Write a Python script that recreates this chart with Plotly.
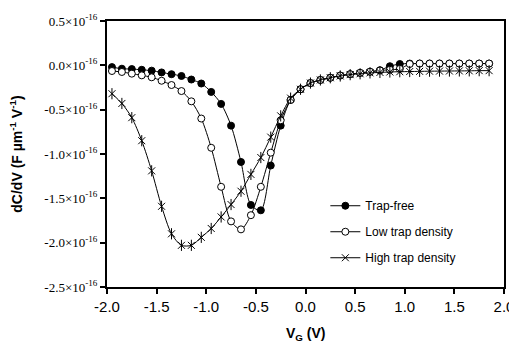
import plotly.graph_objects as go

vg = [-1.95, -1.85, -1.75, -1.65, -1.55, -1.45, -1.35, -1.25, -1.15, -1.05,
      -0.95, -0.85, -0.75, -0.65, -0.55, -0.45, -0.35, -0.25, -0.15, -0.05,
      0.05, 0.15, 0.25, 0.35, 0.45, 0.55, 0.65, 0.75, 0.85, 0.95,
      1.05, 1.15, 1.25, 1.35, 1.45, 1.55, 1.65, 1.75, 1.85]

# values in units of 1e-16 F um^-1 V^-1
trap_free = [-0.02, -0.038, -0.042, -0.05, -0.06, -0.08, -0.10, -0.12, -0.16, -0.205,
             -0.30, -0.435, -0.68, -1.09, -1.575, -1.635, -1.13, -0.68, -0.39, -0.27,
             -0.20, -0.165, -0.14, -0.115, -0.10, -0.085, -0.072, -0.055, -0.01, 0.015,
             0.02, 0.02, 0.02, 0.02, 0.02, 0.02, 0.02, 0.02, 0.02]

low_trap = [-0.064, -0.075, -0.094, -0.113, -0.135, -0.174, -0.222, -0.29, -0.406, -0.60,
            -0.93, -1.37, -1.76, -1.85, -1.69, -1.37, -0.985, -0.62, -0.39, -0.27,
            -0.20, -0.165, -0.14, -0.115, -0.10, -0.085, -0.072, -0.058, -0.05, -0.04,
            0.015, 0.02, 0.02, 0.02, 0.02, 0.02, 0.02, 0.02, 0.02]

high_trap = [-0.32, -0.43, -0.59, -0.85, -1.19, -1.59, -1.90, -2.03, -2.03, -1.94,
             -1.84, -1.71, -1.57, -1.42, -1.23, -1.04, -0.81, -0.57, -0.37, -0.27,
             -0.20, -0.165, -0.14, -0.12, -0.105, -0.095, -0.085, -0.08, -0.075, -0.072,
             -0.07, -0.068, -0.066, -0.065, -0.064, -0.063, -0.062, -0.06, -0.06]

y_ticks = [0.5, 0.0, -0.5, -1.0, -1.5, -2.0, -2.5]
y_ticktext = ["%.1f×10<sup>-16</sup>" % v for v in y_ticks]
x_ticks = [-2.0, -1.5, -1.0, -0.5, 0.0, 0.5, 1.0, 1.5, 2.0]
x_ticktext = ["%.1f" % v for v in x_ticks]

fig = go.Figure()
line = dict(color="black", width=1, shape="spline", smoothing=0.8)

fig.add_trace(go.Scatter(x=vg, y=trap_free, mode="lines+markers", name="Trap-free",
                         line=line, legendgroup="a",
                         marker=dict(symbol="circle", size=7, color="black",
                                     line=dict(color="black", width=1))))
fig.add_trace(go.Scatter(x=vg, y=low_trap, mode="lines+markers", name="Low trap density",
                         line=line, legendgroup="b",
                         marker=dict(symbol="circle", size=7, color="white",
                                     line=dict(color="black", width=1))))
fig.add_trace(go.Scatter(x=vg, y=high_trap, mode="lines+markers", name="High trap density",
                         line=line, legendgroup="c",
                         marker=dict(symbol="x-thin-open", size=7, color="black",
                                     line=dict(color="black", width=1))))
fig.add_trace(go.Scatter(x=vg, y=high_trap, mode="markers", showlegend=False,
                         legendgroup="c", hoverinfo="skip",
                         marker=dict(symbol="line-ns-open", size=8, color="black",
                                     line=dict(color="black", width=1))))

# page body has an 8px default margin, so the figure is sized/offset to compensate
fig.update_layout(
    width=509, height=343,
    margin=dict(l=99, r=13, t=13, b=64),
    paper_bgcolor="white", plot_bgcolor="white",
    showlegend=True,
    legend=dict(x=0.55, y=0.36, xanchor="left", yanchor="top",
                bgcolor="rgba(0,0,0,0)", traceorder="grouped", tracegroupgap=7,
                font=dict(family="Arial, Liberation Sans", size=12, color="black")),
    xaxis=dict(range=[-2.0, 2.0], tickvals=x_ticks, ticktext=x_ticktext, automargin=False,
               showgrid=False, zeroline=False, showline=True, linecolor="black",
               linewidth=2, mirror=True, ticks="outside", ticklen=5, tickwidth=1.5,
               tickcolor="black",
               tickfont=dict(family="Arial, Liberation Sans", size=15, color="black")),
    yaxis=dict(range=[-2.5, 0.5], tickvals=y_ticks, ticktext=y_ticktext, automargin=False,
               showgrid=False, zeroline=False, showline=True, linecolor="black",
               linewidth=2, mirror=True, ticks="outside", ticklen=5, tickwidth=1.5,
               tickcolor="black",
               tickfont=dict(family="Liberation Serif, Times New Roman", size=13, color="black")),
    annotations=[
        dict(text="<b>V<sub>G</sub> (V)</b>", xref="paper", yref="paper",
             x=0.5, y=-0.177, xanchor="center", yanchor="middle", showarrow=False,
             font=dict(family="Arial, Liberation Sans", size=14, color="black")),
        dict(text="<b>dC/dV (F µm<sup>-1</sup> V<sup>-1</sup>)</b>", xref="paper", yref="paper",
             x=-0.23, y=0.5, xanchor="center", yanchor="middle", showarrow=False,
             textangle=-90,
             font=dict(family="Arial, Liberation Sans", size=14, color="black")),
    ],
)

fig.write_html("out.html")
